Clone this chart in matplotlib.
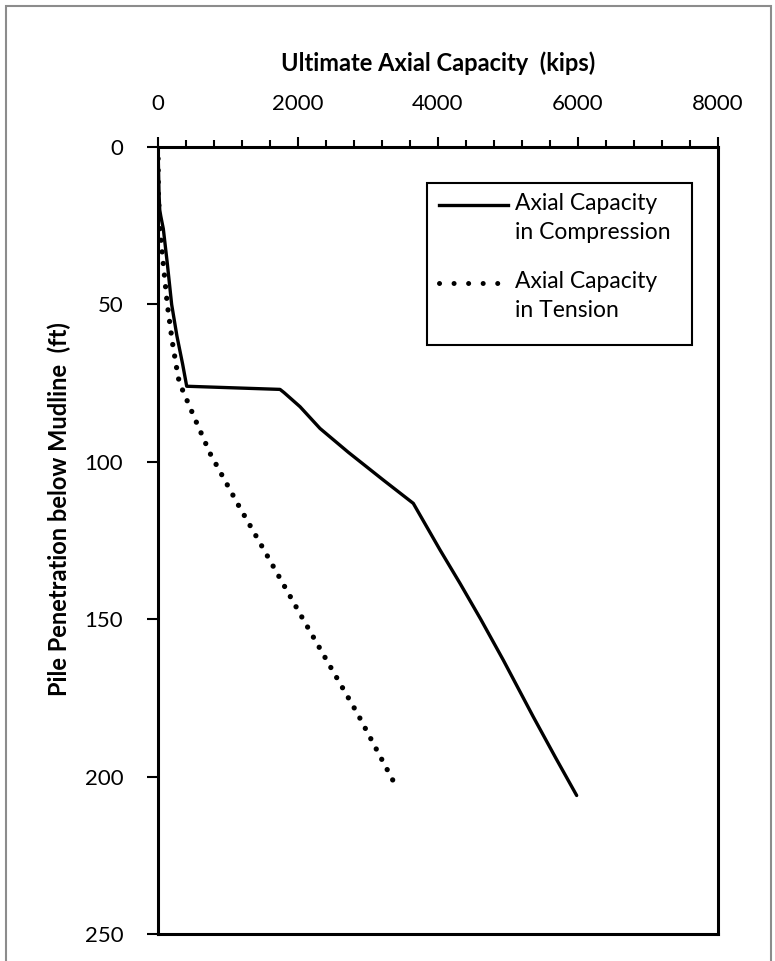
import matplotlib
matplotlib.use("Agg")
import matplotlib.pyplot as plt
from matplotlib.lines import Line2D
from matplotlib.patches import Rectangle

plt.rcParams['font.family'] = ['Lato', 'DejaVu Sans']

# Ultimate axial capacity (kips) versus pile penetration below mudline (ft)
depth_compression = [0, 15, 20, 22, 26, 37, 50, 60, 69, 76, 77, 78, 82.5, 89.4, 97,
                     105.8, 113.2, 128, 138.6, 150, 163, 181, 194, 206]
capacity_compression = [0, 15, 25, 40, 76, 133, 195, 270, 352, 410, 1743, 1800, 2029,
                        2314, 2720, 3219, 3647, 4029, 4314, 4610, 4933, 5361, 5680, 5981]

depth_tension = [0, 15, 26, 37, 50, 62, 73.4, 77, 87, 97.3, 113.7, 126.7, 149.2,
                 165, 180, 193, 204.3]
capacity_tension = [0, 5, 28, 75, 133, 205, 290, 347, 540, 743, 1147, 1481, 2052,
                    2460, 2850, 3160, 3430]

x_ticks = [0, 2000, 4000, 6000, 8000]
y_ticks = [0, 50, 100, 150, 200, 250]

series_labels = ["Axial Capacity\nin Compression", "Axial Capacity\nin Tension"]

W, H = 775, 961
fig = plt.figure(figsize=(W / 100, H / 100), dpi=100)

def fx(px):
    return px / W

def fy(py):
    return 1 - py / H

# outer chart-area frame
fig.patches.append(Rectangle((fx(6), fy(1100)), fx(771) - fx(6), fy(6) - fy(1100),
                             transform=fig.transFigure, fill=False,
                             edgecolor='#8c8c8c', linewidth=1.5))

left, right, top, bottom = 158, 718, 147, 934
ax = fig.add_axes([fx(left), fy(bottom), fx(right) - fx(left), fy(top) - fy(bottom)])

ax.plot(capacity_compression, depth_compression, color='black', linewidth=2.4,
        solid_joinstyle='round', solid_capstyle='round')
ax.plot(capacity_tension, depth_tension, color='black', linewidth=3.8,
        linestyle=(0, (0.01, 2.2)), dash_capstyle='round')

ax.set_xlim(0, 8000)
ax.set_ylim(250, 0)
ax.xaxis.tick_top()
ax.set_xticks(x_ticks)
ax.set_xticks(range(0, 8001, 400), minor=True)
ax.set_yticks(y_ticks)

fs = 16
ax.tick_params(axis='x', which='major', direction='out', length=7, width=1.5,
               pad=17, labelsize=fs, top=True, bottom=False)
ax.tick_params(axis='x', which='minor', direction='out', length=5, width=1.5,
               top=True, bottom=False)
ax.tick_params(axis='y', which='major', direction='out', length=8, width=1.5,
               pad=17, labelsize=fs)

for s in ax.spines.values():
    s.set_linewidth(2.2)
    s.set_color('black')

ax.set_xlabel("Ultimate Axial Capacity  (kips)", fontsize=17, fontweight='bold')
ax.xaxis.set_label_position('top')
ax.xaxis.set_label_coords(0.5, (bottom - 63) / (bottom - top))
ax.xaxis.label.set_va('center')

ax.set_ylabel("Pile Penetration below Mudline  (ft)", fontsize=17, fontweight='bold')
ax.yaxis.set_label_coords((59 - left) / (right - left), (bottom - 509) / (bottom - top))
ax.yaxis.label.set_va('center')
ax.yaxis.label.set_ha('center')

# legend box
lg_l, lg_r, lg_t, lg_b = 427, 692, 183, 345
fig.patches.append(Rectangle((fx(lg_l), fy(lg_b)), fx(lg_r) - fx(lg_l), fy(lg_t) - fy(lg_b),
                             transform=fig.transFigure, facecolor='white',
                             edgecolor='black', linewidth=1.5, zorder=5))
entries = [(205, dict(linewidth=2.4, linestyle='-')),
           (283, dict(linewidth=3.6, linestyle=(0, (0.01, 2.9)), dash_capstyle='round'))]
for (yy, style), label in zip(entries, series_labels):
    fig.lines.append(Line2D([fx(439), fx(508)], [fy(yy), fy(yy)], transform=fig.transFigure,
                            color='black', zorder=6, **style))
    fig.text(fx(515), fy(yy - 12), label, fontsize=16.5, ha='left', va='top',
             linespacing=1.45, zorder=6)

fig.savefig("out.png", dpi=100)
